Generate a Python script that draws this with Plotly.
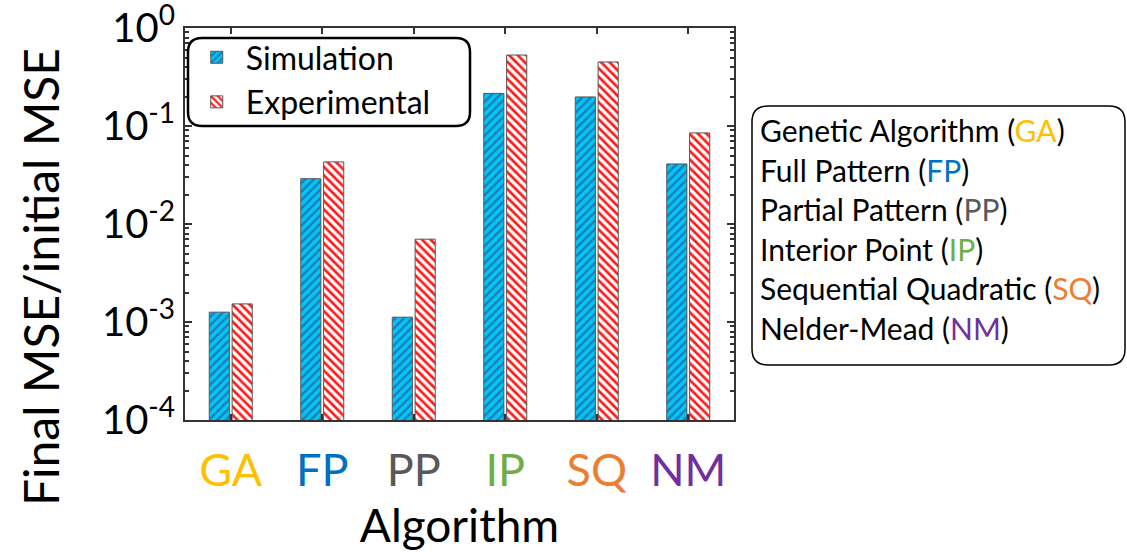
import numpy as np
import plotly.graph_objects as go

# Optimisation algorithms compared
algorithms = ["GA", "FP", "PP", "IP", "SQ", "NM"]
algorithm_names = [
    "Genetic Algorithm",
    "Full Pattern",
    "Partial Pattern",
    "Interior Point",
    "Sequential Quadratic",
    "Nelder-Mead",
]
algorithm_colors = ["#FFC000", "#0070C0", "#595959", "#70AD47", "#ED7D31", "#7030A0"]

# Final MSE / initial MSE
simulation = [1.26e-3, 0.029, 1.12e-3, 0.215, 0.198, 0.041]
experimental = [1.53e-3, 0.043, 7.0e-3, 0.53, 0.45, 0.085]

# Decade tick labels of the log axis
y_exponents = [0, -1, -2, -3, -4]

FONT = "Lato"
AXIS_COLOR = "#333333"

fig = go.Figure()

fig.add_trace(go.Bar(
    name="Simulation",
    x=algorithms,
    y=simulation,
    marker=dict(
        color="#00C8EE",
        line=dict(color="#555555", width=1),
        pattern=dict(shape="/", fgcolor="#1B78C2", bgcolor="#00C8EE",
                     size=6, solidity=0.4, fillmode="replace"),
    ),
))
fig.add_trace(go.Bar(
    name="Experimental",
    x=algorithms,
    y=experimental,
    marker=dict(
        color="#FFFFFF",
        line=dict(color="#555555", width=1),
        pattern=dict(shape="\\", fgcolor="#FF1A1A", bgcolor="#FFFFFF",
                     size=6, solidity=0.45, fillmode="replace"),
    ),
))

tick_vals = [10.0 ** e for e in y_exponents]
tick_text = [f"10<sup>{e}</sup>" for e in y_exponents]
minor_vals = [k * 10.0 ** e for e in range(-4, 0) for k in range(2, 10)]

fig.update_layout(
    width=1127,
    height=552,
    margin=dict(l=185, r=393, t=28, b=132),
    paper_bgcolor="white",
    plot_bgcolor="white",
    font=dict(family=FONT, color="black"),
    barmode="group",
    bargap=0.5,
    bargroupgap=0.12,
    showlegend=True,
    legend=dict(
        x=0.005, y=0.995, xanchor="left", yanchor="top",
        bgcolor="rgba(0,0,0,0)", borderwidth=0,
        font=dict(family=FONT, size=32, color="black"),
        itemwidth=48,
        tracegroupgap=0,
    ),
    xaxis=dict(
        range=[-0.5, 5.5],
        automargin=False,
        tickmode="array",
        tickvals=algorithms,
        ticktext=[f"<span style='color:{c}'>{a}</span>" for a, c in zip(algorithms, algorithm_colors)],
        tickfont=dict(family=FONT, size=45),
        ticklabelstandoff=10,
        ticks="inside", ticklen=6, tickwidth=2, tickcolor=AXIS_COLOR,
        showline=True, linecolor=AXIS_COLOR, linewidth=2, mirror="ticks",
        showgrid=False, zeroline=False,
        title=dict(text="Algorithm", font=dict(family=FONT, size=46), standoff=20),
    ),
    yaxis=dict(
        type="log",
        range=[-4, 0],
        automargin=False,
        tickmode="array",
        tickvals=tick_vals,
        ticktext=tick_text,
        tickfont=dict(family=FONT, size=40),
        ticklabeloverflow="allow",
        ticks="inside", ticklen=7, tickwidth=2, tickcolor=AXIS_COLOR,
        minor=dict(tickvals=minor_vals, ticks="inside", ticklen=4, tickwidth=1.5,
                   tickcolor=AXIS_COLOR, showgrid=False),
        showline=True, linecolor=AXIS_COLOR, linewidth=2, mirror="ticks",
        showgrid=False, zeroline=False,
    ),
)


def rounded_box(x0, y0, x1, y1, r_px):
    """SVG path of a rounded rectangle in paper units (given pixel corners)."""
    pw, ph = 549.0, 392.0
    def px(x):
        return (x - 185.0) / pw
    def py(y):
        return (420.0 - y) / ph
    rx, ry = r_px / pw, r_px / ph
    X0, X1, Y0, Y1 = px(x0), px(x1), py(y0), py(y1)
    return (
        f"M {X0 + rx},{Y0} L {X1 - rx},{Y0} Q {X1},{Y0} {X1},{Y0 - ry} "
        f"L {X1},{Y1 + ry} Q {X1},{Y1} {X1 - rx},{Y1} "
        f"L {X0 + rx},{Y1} Q {X0},{Y1} {X0},{Y1 + ry} "
        f"L {X0},{Y0 - ry} Q {X0},{Y0} {X0 + rx},{Y0} Z"
    )


# Frame around the series legend
fig.add_shape(type="path", xref="paper", yref="paper",
              path=rounded_box(188, 38, 470, 126, 14),
              line=dict(color="black", width=2.5), fillcolor="rgba(0,0,0,0)")

# Frame and text of the abbreviation key
fig.add_shape(type="path", xref="paper", yref="paper",
              path=rounded_box(752, 106, 1125, 365, 16),
              line=dict(color="black", width=1.5), fillcolor="rgba(0,0,0,0)")

key_top = 130.0
key_step = 39.5
for i, (name, abbr, col) in enumerate(zip(algorithm_names, algorithms, algorithm_colors)):
    ypix = key_top + i * key_step
    fig.add_annotation(
        xref="paper", yref="paper",
        x=(758 - 185) / 549.0, y=(420 - ypix) / 392.0,
        xanchor="left", yanchor="middle", showarrow=False,
        text=f"{name} (<span style='color:{col}'>{abbr}</span>)",
        font=dict(family=FONT, size=30, color="black"),
    )

# Y-axis title
fig.add_annotation(
    xref="paper", yref="paper",
    x=(40 - 185) / 549.0, y=(420 - 277) / 392.0,
    xanchor="center", yanchor="middle", showarrow=False, textangle=-90,
    text="Final MSE/initial MSE",
    font=dict(family=FONT, size=48, color="black"),
)

fig.write_html("out.html")
